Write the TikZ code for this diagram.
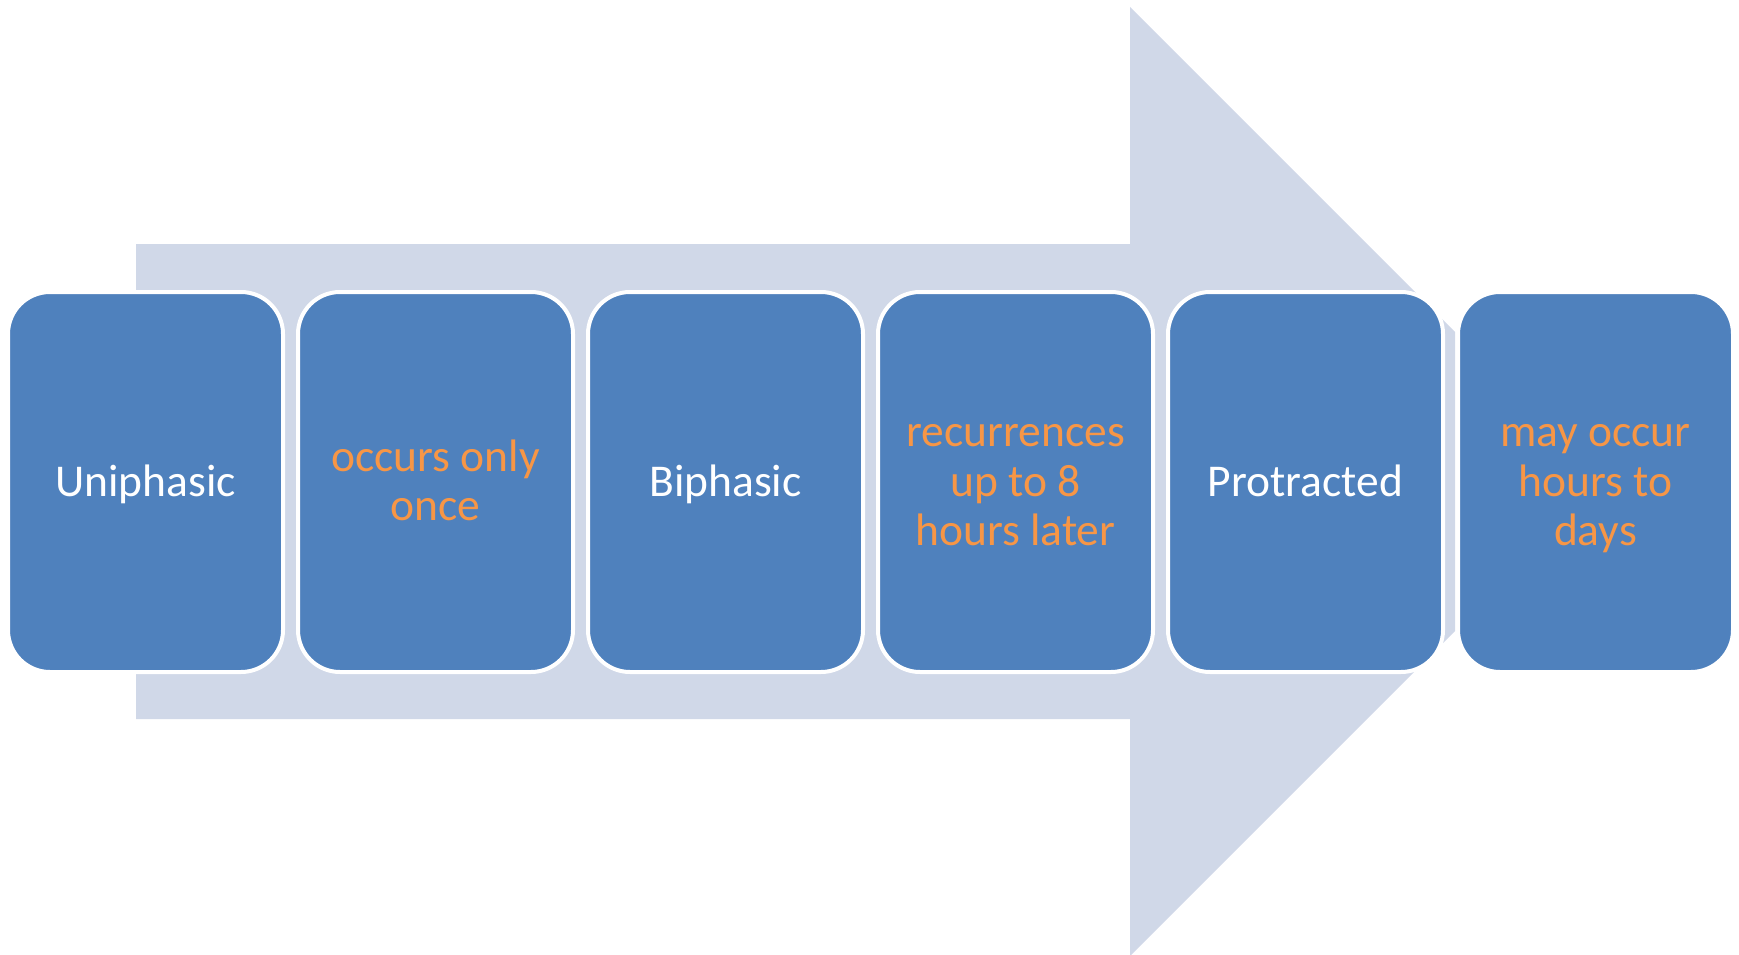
\documentclass[tikz,border=0pt]{standalone}
\usepackage{fontspec}
\setmainfont{Carlito}
\definecolor{boxblue}{HTML}{4F81BD}
\definecolor{arrowgray}{HTML}{D0D8E8}
\definecolor{txtorange}{HTML}{F79646}
\newcommand\mytopstrut{\rule{0pt}{43pt}}
\newcommand\mybotstrut{\rule[-15pt]{0pt}{0pt}}
\begin{document}
\begin{tikzpicture}[x=1pt,y=-1pt,
  stage/.style={rectangle, rounded corners=42pt, minimum width=275pt, minimum height=380pt,
    fill=boxblue, draw=white, line width=4pt, inner sep=0pt, align=center,
    font=\fontsize{45.5}{49.5}\selectfont},
  mainbox/.style={stage, text=white},
  notebox/.style={stage, text=txtorange}]
\useasboundingbox (0,0) rectangle (1739,955);
\begin{scope}
\clip (0,0) rectangle (1455,955);
\fill[arrowgray] (136,244) -- (1130,244) -- (1130,7) -- (1604.5,481.5) -- (1130,956) -- (1130,719) -- (136,719) -- cycle;
\end{scope}
\node[mainbox] (b1) at (145.5,482) {\mytopstrut Uniphasic\mybotstrut};
\node[notebox] (b2) at (435.5,482) {\mytopstrut occurs only\\once\mybotstrut};
\node[mainbox] (b3) at (725.5,482) {\mytopstrut Biphasic\mybotstrut};
\node[notebox] (b4) at (1015.5,482) {\mytopstrut recurrences\\up to 8\\hours later\mybotstrut};
\node[mainbox] (b5) at (1305.5,482) {\mytopstrut Protracted\mybotstrut};
\node[notebox] (b6) at (1595.5,482) {\mytopstrut may occur\\hours to\\days\mybotstrut};
\end{tikzpicture}
\end{document}
